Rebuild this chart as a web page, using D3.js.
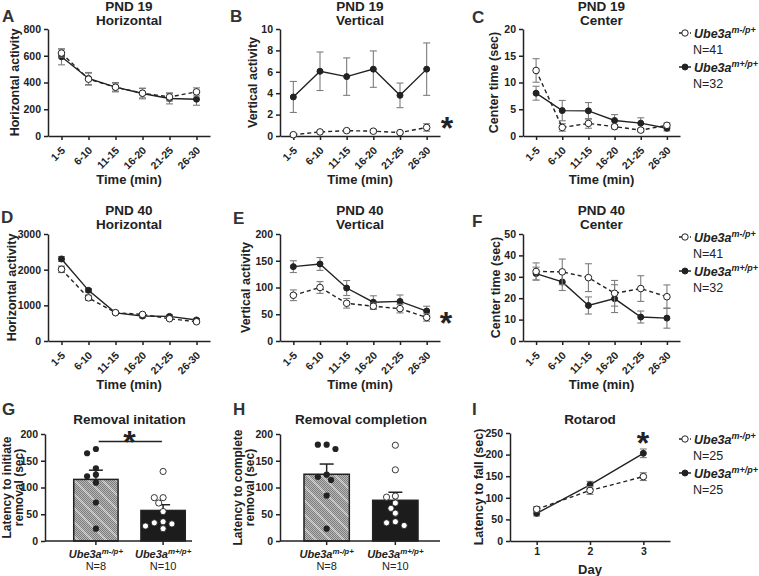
<!DOCTYPE html>
<html><head><meta charset="utf-8">
<script src="https://cdn.jsdelivr.net/npm/d3@7"></script>
<style>body{margin:0;background:#fff}</style>
</head><body><svg id="c" width="759" height="576"></svg>
<script>
// ---------------- DATA ----------------
const timeBins = ["1-5","6-10","11-15","16-20","21-25","26-30"];
const genotypes = ["m-/p+","m+/p+"];

// PND 19
const pnd19HorizKO = [620, 425, 365, 320, 292, 330];
const pnd19HorizKOErr = [30, 45, 30, 35, 30, 30];
const pnd19HorizWT = [592, 430, 365, 318, 280, 275];
const pnd19HorizWTErr = [60, 45, 35, 40, 40, 45];
const pnd19VertKO = [0.12, 0.38, 0.5, 0.45, 0.32, 0.8];
const pnd19VertKOErr = [0.05, 0.1, 0.1, 0.15, 0.08, 0.35];
const pnd19VertWT = [3.65, 6.05, 5.55, 6.25, 3.8, 6.25];
const pnd19VertWTErr = [1.45, 1.8, 1.75, 1.7, 1.15, 2.45];
const pnd19CenterKO = [12.25, 1.6, 2.35, 1.75, 1.1, 2.0];
const pnd19CenterKOErr = [2.2, 0.7, 0.9, 0.4, 0.3, 0.4];
const pnd19CenterWT = [8.0, 4.75, 4.7, 2.9, 2.4, 1.45];
const pnd19CenterWTErr = [1.3, 1.9, 1.55, 1.1, 1.0, 0.5];

// PND 40
const pnd40HorizKO = [2010, 1210, 795, 745, 625, 540];
const pnd40HorizKOErr = [90, 70, 40, 40, 40, 40];
const pnd40HorizWT = [2300, 1420, 790, 700, 690, 590];
const pnd40HorizWTErr = [70, 50, 40, 50, 40, 40];
const pnd40VertKO = [85.5, 100, 70.5, 65, 60.5, 44];
const pnd40VertKOErr = [10, 11, 9, 6, 8, 7];
const pnd40VertWT = [139, 144, 99, 72.5, 74, 56];
const pnd40VertWTErr = [11, 12, 14, 12, 12, 9];
const pnd40CenterKO = [32.5, 32.3, 29.6, 22.3, 24.5, 20.7];
const pnd40CenterKOErr = [4, 6, 6.5, 6, 6, 5.5];
const pnd40CenterWT = [31.5, 27.6, 16.6, 19.8, 11.2, 10.7];
const pnd40CenterWTErr = [3, 4, 4, 6.5, 2.8, 4.7];

// Removal task (individual animals)
const initiateKO = [164, 172, 136, 121, 124, 109, 72, 23];
const initiateWT = [130, 81, 81, 71, 55, 32, 36, 23, 28, 34];
const completeKO = [180, 180, 172, 124, 120, 114, 85, 23];
const completeWT = [179, 133, 82, 84, 71, 61, 52, 29, 36, 34];

// Rotarod
const days = [1, 2, 3];
const rotarodKO = [73.5, 117, 149];
const rotarodKOErr = [6, 9, 9];
const rotarodWT = [64, 130, 203];
const rotarodWTErr = [6, 8, 10];

const nOpenField = [41, 32];
const nRemoval = [8, 10];
const nRotarod = [25, 25];

// ---------------- DRAWING ----------------
const FONT = "'Liberation Sans', Arial, Helvetica, sans-serif";
const INK = "#222";
const ERR = "#7d7d7d";
const svg = d3.select("#c");
svg.append("rect").attr("width", 759).attr("height", 576).attr("fill", "#fff");

const defs = svg.append("defs");
const fine = defs.append("pattern").attr("id", "fine").attr("patternUnits", "userSpaceOnUse").attr("width", 2).attr("height", 2);
fine.append("rect").attr("width", 2).attr("height", 2).attr("fill", "#b8b8b8");
fine.append("rect").attr("width", 1).attr("height", 1).attr("fill", "#7c7c7c");
fine.append("rect").attr("x", 1).attr("y", 1).attr("width", 1).attr("height", 1).attr("fill", "#7c7c7c");
const diag = defs.append("pattern").attr("id", "diag").attr("patternUnits", "userSpaceOnUse").attr("width", 14).attr("height", 14);
diag.append("path").attr("d", "M0,0L14,14M-2,12L2,16M12,-2L16,2").attr("stroke", "#fff").attr("stroke-opacity", 0.4).attr("stroke-width", 2);

function txt(x, y, s, o = {}) {
  return svg.append("text").attr("x", x).attr("y", y).text(s)
    .attr("font-family", FONT).attr("fill", o.fill || INK)
    .attr("font-size", o.size || 12).attr("font-weight", o.weight || "bold")
    .attr("text-anchor", o.anchor || "middle");
}
function letter(s, x, y) { txt(x, y, s, {size: 17, anchor: "start", fill: "#333"}); }
function star(x, cy) { txt(x, cy + 18, "*", {size: 32}); }

function styleAxis(g) {
  g.attr("font-family", FONT);
  g.select(".domain").attr("stroke", INK).attr("stroke-width", 1.5);
  g.selectAll(".tick line").attr("stroke", INK).attr("stroke-width", 1.5);
  g.selectAll(".tick text").attr("fill", INK).attr("font-weight", "bold").attr("font-size", 10.5);
}
function yLabel(lines, x, cy, size = 12.5, gap = 12) {
  lines.forEach((l, i) => {
    const xx = x + i * gap;
    txt(0, 0, l, {size}).attr("transform", `translate(${xx},${cy}) rotate(-90)`);
  });
}
function title(lines, cx, y) {
  lines.forEach((l, i) => txt(cx, y + i * 14, l, {size: 13.5}));
}
function genoLabel(sel, sup, size) {
  sel.append("tspan").text("Ube3a").attr("font-style", "italic").attr("font-weight", "bold");
  sel.append("tspan").text(sup).attr("font-style", "italic").attr("font-weight", "bold")
    .attr("font-size", size * 0.72).attr("dy", -size * 0.4);
}
function legend(x, y, ns) {
  const entries = [{open: true, dash: true}, {open: false, dash: false}];
  entries.forEach((e, i) => {
    const yy = y + i * 34;
    svg.append("line").attr("x1", x).attr("x2", x + 12).attr("y1", yy).attr("y2", yy)
      .attr("stroke", INK).attr("stroke-width", 1.5).attr("stroke-dasharray", e.dash ? "3,2.5" : null);
    svg.append("circle").attr("cx", x + 6).attr("cy", yy).attr("r", e.open ? 3.2 : 3)
      .attr("fill", e.open ? "#fff" : INK).attr("stroke", INK).attr("stroke-width", 1);
    const t = txt(x + 15, yy + 4.5, "", {size: 12.5, anchor: "start"});
    genoLabel(t, genotypes[i], 12.5);
    txt(x + 14, yy + 21, "N=" + ns[i], {size: 12.5, anchor: "start", weight: "normal"});
  });
}

function series(x, xs, y, vals, errs, open) {
  const g = svg.append("g");
  xs.forEach((k, i) => {
    const px = x(k), y1 = y(vals[i] - errs[i]), y2 = y(vals[i] + errs[i]);
    g.append("line").attr("x1", px).attr("x2", px).attr("y1", y1).attr("y2", y2).attr("stroke", ERR).attr("stroke-width", 1.1);
    [y1, y2].forEach(yy => g.append("line").attr("x1", px - 3.5).attr("x2", px + 3.5).attr("y1", yy).attr("y2", yy).attr("stroke", ERR).attr("stroke-width", 1.1));
  });
  const line = d3.line().x((d, i) => x(xs[i])).y(d => y(d));
  svg.append("path").datum(vals).attr("d", line).attr("fill", "none").attr("stroke", INK)
    .attr("stroke-width", 1.4).attr("stroke-dasharray", open ? "4,3" : null);
  svg.append("g").selectAll("circle").data(vals).join("circle")
    .attr("cx", (d, i) => x(xs[i])).attr("cy", d => y(d)).attr("r", open ? 3.3 : 3)
    .attr("fill", open ? "#fff" : INK).attr("stroke", INK).attr("stroke-width", 1);
}

function linePanel(c) {
  const x = d3.scalePoint().domain(timeBins).range([c.x0, c.x1]).padding(0.5);
  const y = d3.scaleLinear().domain([0, c.yMax]).range([c.bot, c.top]);
  const ga = svg.append("g").attr("transform", `translate(${c.x0},0)`)
    .call(d3.axisLeft(y).tickValues(c.ticks).tickFormat(d3.format("d")).tickSize(4).tickSizeOuter(0));
  styleAxis(ga);
  const gb = svg.append("g").attr("transform", `translate(0,${c.bot})`)
    .call(d3.axisBottom(x).tickSize(4).tickSizeOuter(0));
  styleAxis(gb);
  gb.selectAll(".tick text").attr("x", 0).attr("y", 0).attr("dy", 0).attr("font-size", 10.5)
    .attr("text-anchor", "end").attr("transform", "translate(4,15) rotate(-45)");
  series(x, timeBins, y, c.wt, c.wtErr, false);
  series(x, timeBins, y, c.ko, c.koErr, true);
  title(c.title, (c.x0 + c.x1) / 2, c.titleY);
  txt((c.x0 + c.x1) / 2, c.bot + 48, "Time (min)", {size: 13});
  yLabel([c.ylabel], c.ylx, (c.top + c.bot) / 2);
  letter(c.letter, c.lx, c.ly);
  if (c.star) star(c.star[0], c.star[1]);
  if (c.legend) legend(c.legend[0], c.legend[1], nOpenField);
}

const rows = [{top: 29, bot: 136, titleY: 11}, {top: 234, bot: 341, titleY: 215}];
const cols = [{x0: 48, x1: 210}, {x0: 280, x1: 440}, {x0: 523, x1: 680}];

linePanel({...cols[0], ...rows[0], yMax: 800, ticks: [0, 200, 400, 600, 800], ko: pnd19HorizKO, koErr: pnd19HorizKOErr, wt: pnd19HorizWT, wtErr: pnd19HorizWTErr, title: ["PND 19", "Horizontal"], ylabel: "Horizontal activity", ylx: 19, letter: "A", lx: 2, ly: 22});
linePanel({...cols[1], ...rows[0], yMax: 10, ticks: [0, 2, 4, 6, 8, 10], ko: pnd19VertKO, koErr: pnd19VertKOErr, wt: pnd19VertWT, wtErr: pnd19VertWTErr, title: ["PND 19", "Vertical"], ylabel: "Vertical activity", ylx: 257, letter: "B", lx: 230, ly: 22, star: [447, 121]});
linePanel({...cols[2], ...rows[0], yMax: 20, ticks: [0, 5, 10, 15, 20], ko: pnd19CenterKO, koErr: pnd19CenterKOErr, wt: pnd19CenterWT, wtErr: pnd19CenterWTErr, title: ["PND 19", "Center"], ylabel: "Center time (sec)", ylx: 498, letter: "C", lx: 472, ly: 23, legend: [679, 33]});
linePanel({...cols[0], ...rows[1], yMax: 3000, ticks: [0, 1000, 2000, 3000], ko: pnd40HorizKO, koErr: pnd40HorizKOErr, wt: pnd40HorizWT, wtErr: pnd40HorizWTErr, title: ["PND 40", "Horizontal"], ylabel: "Horizontal activity", ylx: 16, letter: "D", lx: 1, ly: 223});
linePanel({...cols[1], ...rows[1], yMax: 200, ticks: [0, 50, 100, 150, 200], ko: pnd40VertKO, koErr: pnd40VertKOErr, wt: pnd40VertWT, wtErr: pnd40VertWTErr, title: ["PND 40", "Vertical"], ylabel: "Vertical activity", ylx: 250, letter: "E", lx: 233, ly: 224, star: [446, 316]});
linePanel({...cols[2], ...rows[1], yMax: 50, ticks: [0, 10, 20, 30, 40, 50], ko: pnd40CenterKO, koErr: pnd40CenterKOErr, wt: pnd40CenterWT, wtErr: pnd40CenterWTErr, title: ["PND 40", "Center"], ylabel: "Center time (sec)", ylx: 500, letter: "F", lx: 472, ly: 227, legend: [679, 237]});

// ---- bar panels ----
function swarm(vals, y, cx, r, step) {
  const placed = [];
  const order = vals.map((v, i) => i).sort((a, b) => vals[b] - vals[a]);
  const out = new Array(vals.length);
  order.forEach(i => {
    const py = y(vals[i]);
    for (const k of [0, -1, 1, -2, 2, -3, 3, -4, 4]) {
      const px = cx + k * step;
      if (placed.every(p => Math.hypot(p[0] - px, p[1] - py) >= 2 * r - 0.4)) {
        placed.push([px, py]); out[i] = [px, py]; break;
      }
    }
  });
  return out;
}
function barPanel(c) {
  const x = d3.scaleBand().domain(genotypes).range([c.bx0, c.bx1]).paddingInner(0.34).paddingOuter(c.po);
  const y = d3.scaleLinear().domain([0, 200]).range([541, 434]);
  const groups = [c.ko, c.wt];
  groups.forEach((vals, gi) => {
    const g = genotypes[gi];
    const m = d3.mean(vals), sem = d3.deviation(vals) / Math.sqrt(vals.length);
    const bx = x(g), bw = x.bandwidth(), cx = bx + bw / 2;
    if (gi === 0) {
      svg.append("rect").attr("x", bx).attr("y", y(m)).attr("width", bw).attr("height", y(0) - y(m)).attr("fill", "url(#fine)");
      svg.append("rect").attr("x", bx).attr("y", y(m)).attr("width", bw).attr("height", y(0) - y(m)).attr("fill", "url(#diag)");
    } else {
      svg.append("rect").attr("x", bx).attr("y", y(m)).attr("width", bw).attr("height", y(0) - y(m)).attr("fill", "#1c1c1c");
    }
    svg.append("rect").attr("x", bx).attr("y", y(m)).attr("width", bw).attr("height", y(0) - y(m))
      .attr("fill", "none").attr("stroke", INK).attr("stroke-width", 1.5);
    svg.append("line").attr("x1", cx).attr("x2", cx).attr("y1", y(m) - 0.7).attr("y2", y(m + sem)).attr("stroke", INK).attr("stroke-width", 1.5);
    svg.append("line").attr("x1", cx - 7).attr("x2", cx + 7).attr("y1", y(m + sem)).attr("y2", y(m + sem)).attr("stroke", INK).attr("stroke-width", 1.5);
    const pts = swarm(vals, y, cx, 3.3, 4.4);
    svg.append("g").selectAll("circle").data(pts).join("circle")
      .attr("cx", d => d[0]).attr("cy", d => d[1]).attr("r", 3.1)
      .attr("fill", gi ? "#fff" : INK).attr("stroke", gi ? INK : "none").attr("stroke-width", 0.9);
    const t = txt(cx, 558, "", {size: 11});
    genoLabel(t, g, 11);
    txt(cx, 570, "N=" + nRemoval[gi], {size: 11, weight: "normal"});
  });
  const ga = svg.append("g").attr("transform", `translate(${c.x0},0)`)
    .call(d3.axisLeft(y).tickValues([0, 50, 100, 150, 200]).tickSize(4).tickSizeOuter(0));
  styleAxis(ga);
  const gb = svg.append("g").attr("transform", "translate(0,541)")
    .call(d3.axisBottom(x).tickSize(4).tickSizeOuter(0).tickFormat(""));
  styleAxis(gb);
  gb.select(".domain").attr("d", `M${c.x0},0H${c.x1}`);
  title([c.title], (x(genotypes[0]) + x(genotypes[1]) + x.bandwidth()) / 2, 424);
  yLabel(c.ylabel, c.ylx, 487.5, 12, 12);
  letter(c.letter, c.lx, 415);
  if (c.sig) {
    svg.append("line").attr("x1", x(genotypes[0]) + 25).attr("x2", x(genotypes[1]) + 21)
      .attr("y1", 441.5).attr("y2", 441.5).attr("stroke", INK).attr("stroke-width", 1.5);
    star((x(genotypes[0]) + x(genotypes[1]) + x.bandwidth()) / 2, 435);
  }
}
barPanel({x0: 45, x1: 192, bx0: 67, bx1: 192, po: 0.1, ko: initiateKO, wt: initiateWT, title: "Removal initation", ylabel: ["Latency to initiate", "removal (sec)"], ylx: 11, letter: "G", lx: 2, sig: true});
barPanel({x0: 280, x1: 440, bx0: 282, bx1: 440, po: 0.32, ko: completeKO, wt: completeWT, title: "Removal completion", ylabel: ["Latency to complete", "removal (sec)"], ylx: 242, letter: "H", lx: 233});

// ---- rotarod ----
(function () {
  const x = d3.scaleLinear().domain([0.5, 3.5]).range([510, 670]);
  const y = d3.scaleLinear().domain([0, 250]).range([541, 433]);
  const ga = svg.append("g").attr("transform", "translate(510,0)")
    .call(d3.axisLeft(y).tickValues([0, 50, 100, 150, 200, 250]).tickSize(4).tickSizeOuter(0));
  styleAxis(ga);
  const gb = svg.append("g").attr("transform", "translate(0,541)")
    .call(d3.axisBottom(x).tickValues(days).tickFormat(d3.format("d")).tickSize(4).tickSizeOuter(0));
  styleAxis(gb);
  series(x, days, y, rotarodWT, rotarodWTErr, false);
  series(x, days, y, rotarodKO, rotarodKOErr, true);
  title(["Rotarod"], 590, 424);
  txt(590, 574, "Day", {size: 13});
  yLabel(["Latency to fall (sec)"], 483, 487);
  letter("I", 472, 415);
  star(643, 436);
  legend(679, 439, nRotarod);
})();
</script></body></html>
